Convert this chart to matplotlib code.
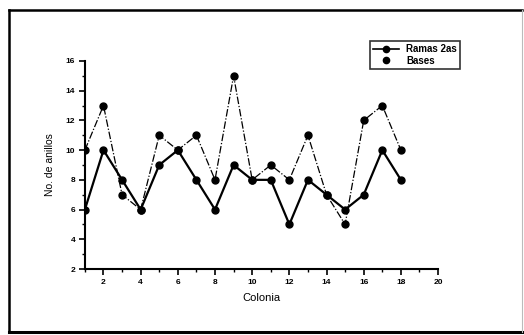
import numpy as np
import matplotlib
matplotlib.use('Agg')
import matplotlib.pyplot as plt
from matplotlib.ticker import MultipleLocator
from matplotlib.lines import Line2D

plt.rcParams['font.family'] = ['Liberation Sans', 'DejaVu Sans']

# colonia number and ring counts
colonia = [1, 2, 3, 4, 5, 6, 7, 8, 9, 10, 11, 12, 13, 14, 15, 16, 17, 18]
ramas_2as = [6, 10, 8, 6, 9, 10, 8, 6, 9, 8, 8, 5, 8, 7, 6, 7, 10, 8]
bases = [10, 13, 7, 6, 11, 10, 11, 8, 15, 8, 9, 8, 11, 7, 5, 12, 13, 10]

fig = plt.figure(figsize=(5.24, 3.35), dpi=100)
ax = fig.add_axes([0.162, 0.197, 0.674, 0.621])

ax.plot(colonia, bases, color='black', lw=0.9, ls=(0, (6, 1.5, 1, 1.5)),
        marker='o', ms=5, label='Bases')
ax.plot(colonia, ramas_2as, color='black', lw=1.6, ls='-',
        marker='o', ms=5, label='Ramas 2as')

ax.set_xlim(1, 20)
ax.set_ylim(2, 16)
ax.xaxis.set_minor_locator(MultipleLocator(1))
ax.yaxis.set_major_locator(MultipleLocator(2))
ax.yaxis.set_minor_locator(MultipleLocator(1))
ax.set_xticks(np.arange(2, 21, 2))
ax.set_xticklabels([str(v) for v in range(2, 21, 2)])
for s in ['top', 'right']:
    ax.spines[s].set_visible(False)
for s in ['left', 'bottom']:
    ax.spines[s].set_linewidth(1.5)
ax.tick_params(which='major', length=4, width=1.2, labelsize=6, pad=3)
ax.tick_params(which='minor', length=2, width=1.0)
for lbl in ax.get_xticklabels() + ax.get_yticklabels():
    lbl.set_fontweight('bold')

ax.set_xlabel('Colonia', fontsize=8, labelpad=5)
ax.set_ylabel('No. de anillos', fontsize=7.5, labelpad=8)

handles = [Line2D([], [], color='black', lw=1.2, marker='o', ms=4.5),
           Line2D([], [], color='black', lw=0, marker='o', ms=4.5)]
leg = fig.legend(handles, ['Ramas 2as', 'Bases'], loc='upper left',
                 bbox_to_anchor=(365 / 524, 1 - 36 / 335),
                 prop={'size': 7, 'weight': 'bold'}, frameon=True,
                 fancybox=False, handlelength=2.6, handletextpad=0.8,
                 borderpad=0.35, labelspacing=0.15)
leg.get_frame().set_edgecolor('black')
leg.get_frame().set_linewidth(1.2)

# outer frame of the scanned figure
fig.add_artist(Line2D([9 / 524, 522 / 524], [1 - 10 / 335] * 2, color='black', lw=1.8))
fig.add_artist(Line2D([9 / 524] * 2, [1 - 10 / 335, 1 - 332 / 335], color='black', lw=1.8))
fig.add_artist(Line2D([9 / 524, 522 / 524], [1 - 332 / 335] * 2, color='black', lw=2.2))
fig.add_artist(Line2D([522 / 524] * 2, [1 - 10 / 335, 1 - 332 / 335], color='#bbbbbb', lw=0.8))

fig.savefig('out.png', dpi=100)
